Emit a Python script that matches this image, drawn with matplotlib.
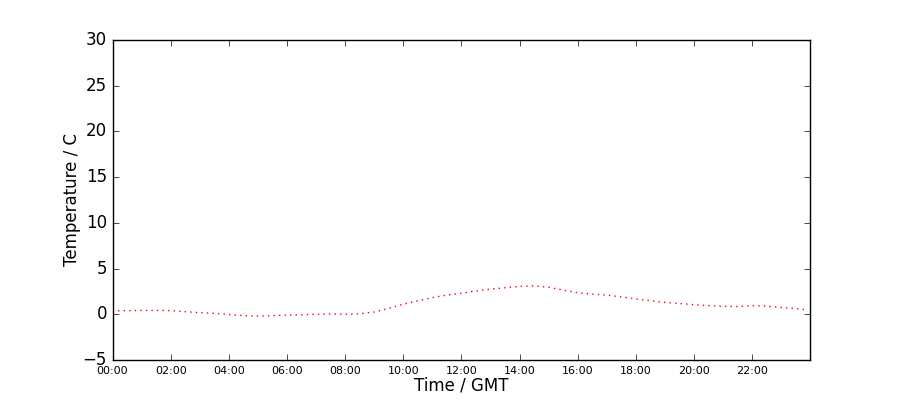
import matplotlib
matplotlib.use('Agg')
import matplotlib.pyplot as plt
from matplotlib.ticker import FuncFormatter, MultipleLocator

# hours since midnight (GMT) and temperature
hours = [0.0, 0.5, 1.0, 1.5, 2.0, 2.5, 3.0, 3.5, 4.0, 4.5, 5.0, 5.5, 6.0, 6.5,
         7.0, 7.5, 8.0, 8.5, 9.0, 9.5, 10.0, 10.5, 11.0, 11.5, 12.0, 12.5,
         13.0, 13.5, 14.0, 14.5, 15.0, 15.5, 16.0, 16.5, 17.0, 17.5, 18.0,
         18.5, 19.0, 19.5, 20.0, 20.5, 21.0, 21.5, 22.0, 22.5, 23.0, 23.5, 23.8]
temps = [0.38, 0.40, 0.42, 0.43, 0.40, 0.28, 0.18, 0.10, -0.02, -0.15, -0.20,
         -0.15, -0.08, -0.05, 0.00, 0.03, 0.00, 0.05, 0.25, 0.65, 1.10, 1.48,
         1.82, 2.10, 2.30, 2.55, 2.75, 2.90, 3.05, 3.12, 2.95, 2.65, 2.35,
         2.20, 2.10, 1.90, 1.68, 1.48, 1.30, 1.18, 1.05, 0.95, 0.87, 0.85,
         0.95, 0.88, 0.75, 0.62, 0.52]

plt.style.use('classic')
fig = plt.figure(figsize=(9, 4), dpi=100)
ax = fig.add_subplot(111)

ax.plot(hours, temps, 'r:', linewidth=1)

ax.set_xlim(0, 23.99)
ax.set_ylim(-5, 30)
ax.xaxis.set_major_locator(MultipleLocator(2))
ax.xaxis.set_major_formatter(FuncFormatter(lambda v, pos: '%02d:00' % int(round(v))))
ax.tick_params(axis='x', labelsize=8)
ax.tick_params(axis='y', labelsize=12)

ax.set_xlabel('Time / GMT', labelpad=1)
ax.set_ylabel('Temperature / C', labelpad=1)

plt.savefig('out.png', dpi=100)
